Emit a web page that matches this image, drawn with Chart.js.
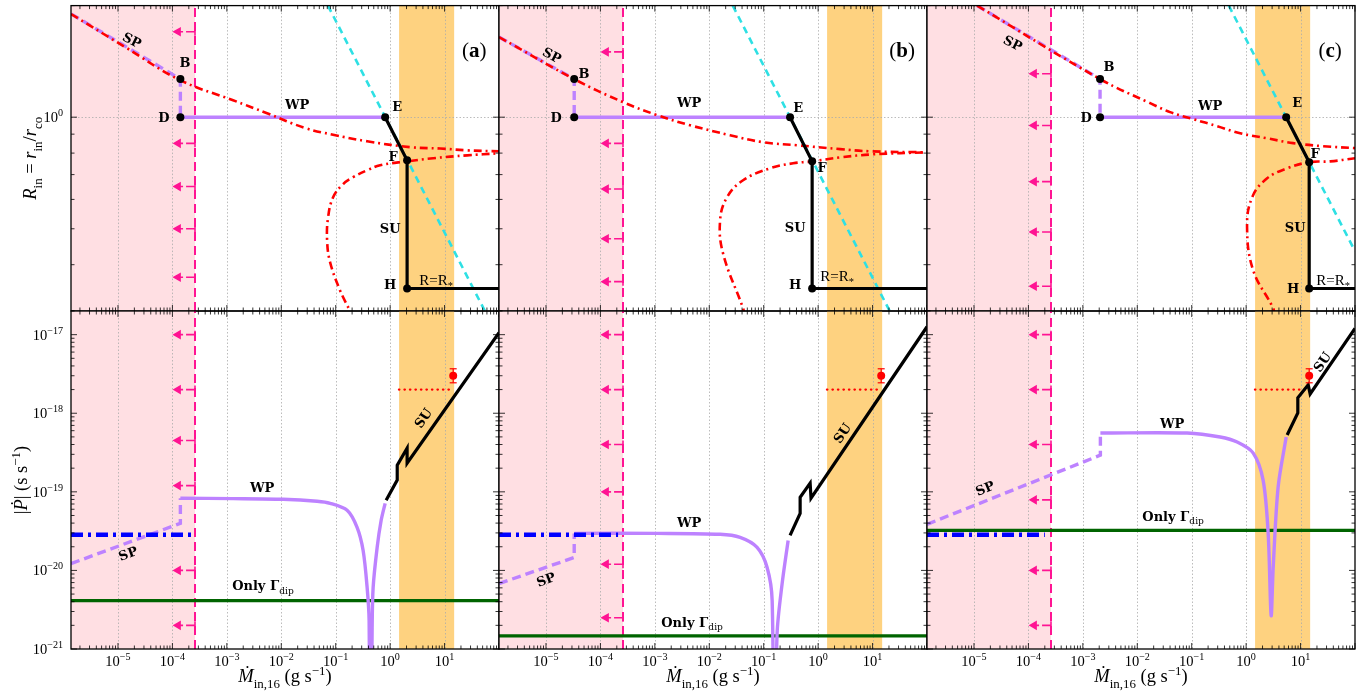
<!DOCTYPE html>
<html>
<head>
<meta charset="utf-8">
<title>R_in and |Pdot| vs Mdot</title>
<script src="https://cdn.jsdelivr.net/npm/chart.js@4.4.1/dist/chart.umd.min.js"></script>
<style>
  html, body { margin: 0; background: #fff; }
  canvas { position: absolute; left: 0; top: 0; }
</style>
</head>
<body>
<canvas id="topA" width="1370" height="693"></canvas>
<canvas id="topB" width="1370" height="693"></canvas>
<canvas id="topC" width="1370" height="693"></canvas>
<canvas id="botA" width="1370" height="693"></canvas>
<canvas id="botB" width="1370" height="693"></canvas>
<canvas id="botC" width="1370" height="693"></canvas>
<script>
// ─── Axes: ranges and tick labels ──────────────────────────────────────────
const mdotRange = [1.37e-6, 100];
const rinRange = [0.3, 2.0];
const pdotRange = [1e-21, 2e-17];
const mdotTickExp = [-5, -4, -3, -2, -1, 0, 1];
const rinTickExp = [0];
const pdotTickExp = [-17, -18, -19, -20, -21];
const rinMinorTicks = [0.3, 0.4, 0.5, 0.6, 0.7, 0.8, 0.9, 2];

// ─── Shared marks ──────────────────────────────────────────────────────────
const propellerMdot = 2.6e-4;        // dashed magenta limit
const arrowTipMdot = 1.27e-4;
const obsBandMdot = [1.46, 15];      // orange band
const obsDottedMdot = [1.45, 12.8];
const obsDottedPdot = 2e-18;
const obsPointMdot = [14.4];
const obsPointPdot = [3.0e-18];
const obsPointErr = [2.44e-18, 3.68e-18];
const blueTorquePdot = 2.85e-20;

// ─── Panel (a) ─────────────────────────────────────────────────────────────
const spTopA_m = [1.37e-6, 1.4e-4, 1.4e-4];
const spTopA_r = [1.90, 1.267, 1.0];
const wpTopA_m = [1.4e-4, 0.81];
const wpTopA_r = [1.0, 1.0];
const suTopA_m = [0.81, 2.05, 2.05, 100];
const suTopA_r = [1.0, 0.765, 0.345, 0.345];
const nodesA_m = [1.4e-4, 1.4e-4, 0.81, 2.05, 2.05];
const nodesA_r = [1.267, 1.0, 1.0, 0.765, 0.345];
const alfvenA_m = [0.072, 55];
const alfvenA_r = [2.0, 0.3];
const redUpA_m = [1.37e-6, 1.35e-5, 1.38e-4, 1.30e-3, 5.48e-3, 0.0274, 0.0896, 0.378, 2.33, 8.30, 26.0, 100];
const redUpA_r = [1.898, 1.546, 1.259, 1.111, 1.025, 0.935, 0.897, 0.861, 0.830, 0.823, 0.814, 0.809];
const redLoA_m = [0.205, 0.184, 0.120, 0.0789, 0.0695, 0.0725, 0.0896, 0.137, 0.209, 0.378, 0.655, 2.05, 6.17, 26.0, 100];
const redLoA_r = [0.285, 0.299, 0.341, 0.406, 0.465, 0.537, 0.608, 0.660, 0.689, 0.719, 0.742, 0.760, 0.775, 0.789, 0.799];
const arrowsTopA_r = [1.70, 0.85, 0.65, 0.50, 0.37];

const spBotA_m = [1.37e-6, 1.4e-4, 1.4e-4];
const spBotA_p = [1.22e-20, 3.97e-20, 8.28e-20];
const wpBotA_m = [1.4e-4, 1.30e-3, 0.0108, 0.0455, 0.0789, 0.162, 0.247, 0.319, 0.378, 0.411, 0.435, 0.467, 0.487, 0.577, 0.684, 0.810];
const wpBotA_p = [8.28e-20, 8.2e-20, 8.04e-20, 7.59e-20, 7.15e-20, 5.82e-20, 3.53e-20, 1.79e-20, 6.05e-21, 2.29e-21, 1e-23, 1.87e-21, 6.05e-21, 1.96e-20, 4.34e-20, 7.15e-20];
const suBotA_m = [0.844, 1.35, 1.35, 2.05, 2.05, 100];
const suBotA_p = [7.81e-20, 1.41e-19, 2.19e-19, 3.60e-19, 2.32e-19, 1.06e-17];
const blueBotA_m = [1.37e-6, 2.29e-4];
const dipoleA_p = 4.13e-21;
const arrowsBotA_p = [1.0e-17, 2.0e-18, 4.5e-19, 1.2e-19, 1.0e-20, 2.0e-21];

// ─── Panel (b) ─────────────────────────────────────────────────────────────
const spTopB_m = [1.37e-6, 3.3e-5, 3.3e-5];
const spTopB_r = [1.645, 1.267, 1.0];
const wpTopB_m = [3.3e-5, 0.305];
const wpTopB_r = [1.0, 1.0];
const suTopB_m = [0.305, 0.776, 0.776, 100];
const suTopB_r = [1.0, 0.76, 0.345, 0.345];
const nodesB_m = [3.3e-5, 3.3e-5, 0.305, 0.776, 0.776];
const nodesB_r = [1.267, 1.0, 1.0, 0.76, 0.345];
const alfvenB_m = [0.027, 20.6];
const alfvenB_r = [2.0, 0.3];
const redUpB_m = [1.37e-6, 3.3e-5, 2.60e-4, 1.10e-3, 4.44e-3, 0.0241, 0.0975, 0.411, 2.54, 9.03, 100];
const redUpB_r = [1.645, 1.267, 1.098, 1.013, 0.951, 0.894, 0.856, 0.840, 0.820, 0.809, 0.804];
const redLoB_m = [0.045, 0.0418, 0.0179, 0.0158, 0.0212, 0.0418, 0.131, 0.347, 0.776, 2.54, 10.3, 100];
const redLoB_r = [0.29, 0.305, 0.429, 0.527, 0.608, 0.676, 0.728, 0.751, 0.760, 0.779, 0.794, 0.804];
const arrowsTopB_r = [1.50, 0.85, 0.64, 0.47, 0.36];

const spBotB_m = [1.37e-6, 3.3e-5, 3.3e-5];
const spBotB_p = [6.8e-21, 1.46e-20, 2.96e-20];
const wpBotB_m = [3.3e-5, 1.10e-3, 0.0158, 0.0368, 0.0756, 0.1155, 0.143, 0.155, 0.176, 0.218, 0.281];
const wpBotB_p = [2.96e-20, 2.96e-20, 2.88e-20, 2.63e-20, 1.96e-20, 1.09e-20, 4.13e-21, 1e-23, 1.56e-21, 6.80e-21, 2.41e-20];
const suBotB_m = [0.305, 0.467, 0.467, 0.713, 0.74, 100];
const suBotB_p = [2.79e-20, 5.33e-20, 8.53e-20, 1.29e-19, 8.28e-20, 1.26e-17];
const blueBotB_m = [1.37e-6, 2.11e-4];
const dipoleB_p = 1.47e-21;
const arrowsBotB_p = [1.0e-17, 2.0e-18, 4.0e-19, 1.0e-19, 1.2e-20, 2.5e-21];

// ─── Panel (c) ─────────────────────────────────────────────────────────────
const spTopC_m = [1.14e-5, 2.07e-3, 2.07e-3];
const spTopC_r = [2.0, 1.267, 1.0];
const wpTopC_m = [2.07e-3, 5.44];
const wpTopC_r = [1.0, 1.0];
const suTopC_m = [5.44, 14.4, 14.4, 100];
const suTopC_r = [1.0, 0.756, 0.345, 0.345];
const nodesC_m = [2.07e-3, 2.07e-3, 5.44, 14.4, 14.4];
const nodesC_r = [1.267, 1.0, 1.0, 0.756, 0.345];
const alfvenC_m = [0.48, 100];
const alfvenC_r = [2.0, 0.435];
const redUpC_m = [1.14e-5, 2.07e-3, 0.0172, 0.0401, 0.106, 0.293, 0.776, 2.43, 7.31, 26.0, 100];
const redUpC_r = [2.0, 1.267, 1.091, 1.032, 0.988, 0.946, 0.905, 0.877, 0.851, 0.835, 0.825];
const redLoC_m = [3.3, 3.14, 1.35, 1.04, 1.29, 2.43, 5.67, 14.4, 35.0, 100];
const redLoC_r = [0.29, 0.305, 0.386, 0.504, 0.608, 0.684, 0.728, 0.756, 0.760, 0.775];
const arrowsTopC_r = [1.31, 0.95, 0.67, 0.49, 0.35];

const spBotC_m = [1.37e-6, 2.1e-3, 2.1e-3];
const spBotC_p = [3.86e-20, 2.93e-19, 5.6e-19];
const wpBotC_m = [2.1e-3, 0.0823, 0.333, 0.684, 1.35, 2.05, 2.54, 2.88, 3.14, 3.87, 5.44];
const wpBotC_p = [5.6e-19, 5.6e-19, 4.98e-19, 4.30e-19, 3.11e-19, 1.41e-19, 2.96e-20, 2.66e-21, 1.09e-20, 1.15e-19, 4.98e-19];
const suBotC_m = [5.67, 8.9, 8.9, 13.8, 15.0, 100];
const suBotC_p = [5.28e-19, 1.01e-18, 1.57e-18, 2.30e-18, 1.76e-18, 1.2e-17];
const blueBotC_m = [1.37e-6, 2.0e-4];
const dipoleC_p = 3.23e-20;
const arrowsBotC_p = [1.0e-17, 2.0e-18, 4.0e-19, 7.9e-20, 1.0e-20, 2.0e-21];

// ─── Style ─────────────────────────────────────────────────────────────────
const W = 1370, H = 693;
const COLS = [[71, 499], [499, 927], [927, 1355]];
const ROWS = [[5, 311], [311, 649]];
const PURPLE = '#bd82ff', RED = '#ff0000', CYAN = '#2ee0e4', MAGENTA = '#ff1493';
const GREEN = '#006400', BLUE = '#0000ff';
const PINK_FILL = '#ffdfe3', ORANGE_FILL = '#fed280';
const AXIS_FONT = '"Liberation Serif", "DejaVu Serif", serif';
const LABEL_FONT = '"DejaVu Serif", serif';

// ─── Helpers ───────────────────────────────────────────────────────────────
function xy(xs, ys) { return xs.map((x, i) => ({ x, y: ys[i] })); }
function hline(y, xs = mdotRange) { return [{ x: xs[0], y }, { x: xs[1], y }]; }
function vline(x, ys) { return [{ x, y: ys[0] }, { x, y: ys[1] }]; }
function arrowData(ys) {
  const d = [];
  ys.forEach(y => d.push({ x: arrowTipMdot, y }, { x: propellerMdot, y }, { x: propellerMdot, y: null }));
  return d;
}
function line(data, color, width, dash = [], extra = {}) {
  return Object.assign({
    data, borderColor: color, backgroundColor: color, borderWidth: width, borderDash: dash,
    pointRadius: 0, fill: false, tension: 0, spanGaps: false
  }, extra);
}
function expText(e) { return e < 0 ? '\u2212' + (-e) : String(e); }

function drawRich(ctx, parts, x, y, size, opt = {}) {
  const fam = opt.family || AXIS_FONT;
  ctx.save();
  const runs = parts.map(([t, s = '']) => {
    const f = s.split(' ');
    const small = f.includes('sub') || f.includes('sup');
    const fs = small ? size * 0.7 : size;
    const font = (f.includes('i') ? 'italic ' : '') + (f.includes('b') ? 'bold ' : '') + fs + 'px ' + fam;
    ctx.font = font;
    return { t, font, w: ctx.measureText(t).width, dy: f.includes('sub') ? size * 0.28 : f.includes('sup') ? -size * 0.42 : 0 };
  });
  const total = runs.reduce((s, r) => s + r.w, 0);
  ctx.translate(x, y);
  if (opt.rot) ctx.rotate(opt.rot * Math.PI / 180);
  let cx = opt.align === 'right' ? -total : opt.align === 'left' ? 0 : -total / 2;
  ctx.fillStyle = '#000';
  ctx.textBaseline = 'alphabetic';
  runs.forEach(r => { ctx.font = r.font; ctx.fillText(r.t, cx, size * 0.35 + r.dy); cx += r.w; });
  ctx.restore();
}

function logTicks(range) {
  const out = [];
  for (let e = Math.floor(Math.log10(range[0])); e <= Math.ceil(Math.log10(range[1])); e++) {
    for (let k = 1; k <= 9; k++) {
      const v = k * Math.pow(10, e);
      if (v >= range[0] * 0.999 && v <= range[1] * 1.001) out.push({ v, major: k === 1 });
    }
  }
  return out;
}

// ─── Decoration plugin: bands, grid, frame, ticks, labels ──────────────────
function decor(notes, o) {
  return {
    id: 'decor',
    beforeDatasetsDraw(chart) {
      const { ctx, chartArea: a, scales: { x, y } } = chart;
      ctx.save();
      ctx.beginPath(); ctx.rect(a.left, a.top, a.width, a.height); ctx.clip();
      const band = (lo, hi, c) => {
        const l = x.getPixelForValue(lo), r = x.getPixelForValue(hi);
        ctx.fillStyle = c; ctx.fillRect(l, a.top, r - l, a.height);
      };
      band(mdotRange[0], propellerMdot, PINK_FILL);
      band(obsBandMdot[0], obsBandMdot[1], ORANGE_FILL);
      ctx.strokeStyle = '#ababab'; ctx.lineWidth = 0.8; ctx.setLineDash([1.5, 2]);
      mdotTickExp.forEach(e => {
        const px = Math.round(x.getPixelForValue(Math.pow(10, e))) + 0.5;
        ctx.beginPath(); ctx.moveTo(px, a.top); ctx.lineTo(px, a.bottom); ctx.stroke();
      });
      (o.hGrid || []).forEach(v => {
        const py = Math.round(y.getPixelForValue(v)) + 0.5;
        ctx.beginPath(); ctx.moveTo(a.left, py); ctx.lineTo(a.right, py); ctx.stroke();
      });
      ctx.restore();
    },
    afterDatasetsDraw(chart) {
      const { ctx, scales: { x, y } } = chart;
      notes.forEach(n => drawRich(ctx, typeof n.t === 'string' ? [[n.t, 'b']] : n.t,
        x.getPixelForValue(n.x), y.getPixelForValue(n.y), n.size || 13,
        { rot: n.rot || 0, family: n.family || LABEL_FONT }));
    },
    afterDraw(chart) {
      const { ctx, chartArea: a, scales: { x, y } } = chart;
      ctx.save();
      ctx.strokeStyle = '#000'; ctx.lineWidth = 0.8;
      logTicks(mdotRange).forEach(t => {
        const px = x.getPixelForValue(t.v), len = t.major ? 6 : 3.5;
        ctx.beginPath();
        ctx.moveTo(px, a.bottom); ctx.lineTo(px, a.bottom - len);
        ctx.moveTo(px, a.top); ctx.lineTo(px, a.top + len);
        ctx.stroke();
      });
      o.yTicks.forEach(t => {
        const py = y.getPixelForValue(t.v), len = t.major ? 6 : 3.5;
        ctx.beginPath();
        ctx.moveTo(a.left, py); ctx.lineTo(a.left + len, py);
        ctx.moveTo(a.right, py); ctx.lineTo(a.right - len, py);
        ctx.stroke();
      });
      ctx.lineWidth = 1.3;
      ctx.strokeRect(a.left, a.top, a.width, a.height);
      if (o.xLabels) {
        mdotTickExp.forEach(e => drawRich(ctx, [['10', ''], [expText(e), 'sup']],
          x.getPixelForValue(Math.pow(10, e)), a.bottom + 12, 14.5));
        drawRich(ctx, [['\u1E40', 'i'], ['in,16', 'sub'], [' (g s', ''], ['\u22121', 'sup'], [')', '']],
          (a.left + a.right) / 2, 676, 18.5);
      }
      if (o.yLabels) {
        o.yLabels.forEach(e => drawRich(ctx, [['10', ''], [expText(e), 'sup']],
          a.left - 8, y.getPixelForValue(Math.pow(10, e)), 14.5, { align: 'right' }));
        drawRich(ctx, o.yTitle, o.yTitleX, (a.top + a.bottom) / 2, 18.5, { rot: -90 });
      }
      ctx.restore();
    }
  };
}

function makePanel(id, col, row, yRange, datasets, notes, o) {
  new Chart(document.getElementById(id), {
    type: 'line',
    data: { datasets },
    options: {
      responsive: false, animation: false, events: [],
      layout: { padding: { left: col[0], right: W - col[1], top: row[0], bottom: H - row[1] } },
      scales: {
        x: { type: 'logarithmic', min: mdotRange[0], max: mdotRange[1], display: false },
        y: { type: 'logarithmic', min: yRange[0], max: yRange[1], display: false }
      },
      plugins: { legend: { display: false }, tooltip: { enabled: false } }
    },
    plugins: [decor(notes, o)]
  });
}

// ─── Dataset builders ──────────────────────────────────────────────────────
function arrowSet(ys) {
  return line(arrowData(ys), MAGENTA, 1.6, [5, 3, 100], {
    pointRadius: c => (c.index % 3 === 2 ? 0 : 4),
    pointStyle: c => (c.index % 3 === 0 ? 'triangle' : 'line'),
    pointRotation: c => (c.index % 3 === 0 ? 270 : 90),
    pointBackgroundColor: MAGENTA, pointBorderColor: MAGENTA, pointBorderWidth: 1.6
  });
}

function topSets(d) {
  return [
    line(xy(d.nodes[0], d.nodes[1]), '#000', 0, [], { showLine: false, pointRadius: 4, pointBorderWidth: 0, pointBackgroundColor: '#000' }),
    line(xy(d.su[0], d.su[1]), '#000', 3.2),
    line(xy(d.redUp[0], d.redUp[1]), RED, 2.6, [8, 4, 2, 4], { tension: 0.4 }),
    line(xy(d.redLo[0], d.redLo[1]), RED, 2.6, [8, 4, 2, 4], { tension: 0.4 }),
    line(xy(d.alfven[0], d.alfven[1]), CYAN, 2.6, [7, 5]),
    line(xy(d.wp[0], d.wp[1]), PURPLE, 3.4),
    line(xy(d.sp[0], d.sp[1]), PURPLE, 3.4, [9, 5]),
    arrowSet(d.arrows),
    line(vline(propellerMdot, rinRange), MAGENTA, 2, [9, 5])
  ];
}

function botSets(d) {
  return [
    line(xy(obsPointMdot, obsPointPdot), RED, 0, [], { showLine: false, pointRadius: 4, pointBorderWidth: 0, pointBackgroundColor: RED }),
    line(vline(obsPointMdot[0], obsPointErr), RED, 1.2, [], { pointRadius: 3.5, pointStyle: 'line', pointBorderColor: RED, pointBorderWidth: 1.2 }),
    line(xy(d.su[0], d.su[1]), '#000', 3.2),
    line(hline(blueTorquePdot, d.blue), BLUE, 4.5, [12, 5, 3, 5]),
    line(xy(d.wp[0], d.wp[1]), PURPLE, 3.4, [], { tension: 0.3, borderJoinStyle: 'round' }),
    line(xy(d.sp[0], d.sp[1]), PURPLE, 3.4, [9, 5]),
    line(hline(obsDottedPdot, obsDottedMdot), RED, 2.2, [0.5, 5], { borderCapStyle: 'round' }),
    line(hline(d.dipole), GREEN, 3.4),
    arrowSet(d.arrows),
    line(vline(propellerMdot, pdotRange), MAGENTA, 2, [9, 5])
  ];
}

// ─── Labels ────────────────────────────────────────────────────────────────
const rStar = [['R=R', ''], ['*', 'sub']];
const onlyDip = [['Only \u0393', 'b'], ['dip', 'sub']];
const tag = l => [['(', ''], [l, 'b'], [')', '']];
const rinTitle = [['R', 'i'], ['in', 'sub'], [' = ', ''], ['r', 'i'], ['in', 'sub'], ['/', ''], ['r', 'i'], ['co', 'sub']];
const pdotTitle = [['|', ''], ['\u1E56', 'i'], ['|', ''], [' (s s', ''], ['\u22121', 'sup'], [')', '']];

const notesTopA = [
  { t: 'SP', x: 1.81e-5, y: 1.615, rot: 27 }, { t: 'B', x: 1.71e-4, y: 1.408 }, { t: 'D', x: 7.0e-5, y: 1.0 },
  { t: 'WP', x: 0.0195, y: 1.084 }, { t: 'E', x: 1.35, y: 1.071 }, { t: 'F', x: 1.13, y: 0.785 },
  { t: 'SU', x: 1.0, y: 0.501 }, { t: 'H', x: 1.0, y: 0.354 }, { t: rStar, x: 7.0, y: 0.365, size: 15, family: AXIS_FONT },
  { t: tag('a'), x: 35, y: 1.517, size: 21, family: AXIS_FONT }
];
const notesTopB = [
  { t: 'SP', x: 1.29e-5, y: 1.47, rot: 27 }, { t: 'B', x: 5.0e-5, y: 1.315 }, { t: 'D', x: 1.53e-5, y: 1.0 },
  { t: 'WP', x: 4.26e-3, y: 1.098 }, { t: 'E', x: 0.429, y: 1.064 }, { t: 'F', x: 1.18, y: 0.732 },
  { t: 'SU', x: 0.378, y: 0.504 }, { t: 'H', x: 0.378, y: 0.354 }, { t: rStar, x: 2.24, y: 0.374, size: 15, family: AXIS_FONT },
  { t: tag('b'), x: 35, y: 1.517, size: 21, family: AXIS_FONT }
];
const notesTopC = [
  { t: 'SP', x: 5.2e-5, y: 1.585, rot: 27 }, { t: 'B', x: 3.03e-3, y: 1.374 }, { t: 'D', x: 1.15e-3, y: 1.0 },
  { t: 'WP', x: 0.218, y: 1.077 }, { t: 'E', x: 8.66, y: 1.098 }, { t: 'F', x: 18.5, y: 0.799 },
  { t: 'SU', x: 7.96, y: 0.504 }, { t: 'H', x: 7.31, y: 0.345 }, { t: rStar, x: 39.7, y: 0.365, size: 15, family: AXIS_FONT },
  { t: tag('c'), x: 35, y: 1.517, size: 21, family: AXIS_FONT }
];
const notesBotA = [
  { t: 'WP', x: 4.44e-3, y: 1.15e-19 }, { t: 'SP', x: 1.53e-5, y: 1.64e-20, rot: -20 },
  { t: 'SU', x: 4.04, y: 8.7e-19, rot: -55 }, { t: onlyDip, x: 4.6e-3, y: 6.4e-21 }
];
const notesBotB = [
  { t: 'WP', x: 4.26e-3, y: 4.1e-20 }, { t: 'SP', x: 1.0e-5, y: 7.7e-21, rot: -20 },
  { t: 'SU', x: 2.76, y: 5.6e-19, rot: -55 }, { t: onlyDip, x: 4.83e-3, y: 2.2e-21 }
];
const notesBotC = [
  { t: 'WP', x: 0.0436, y: 7.5e-19 }, { t: 'SP', x: 1.59e-5, y: 1.11e-19, rot: -22 },
  { t: 'SU', x: 24.9, y: 4.5e-18, rot: -55 }, { t: onlyDip, x: 0.0455, y: 4.9e-20 }
];

// ─── Build the six panels ──────────────────────────────────────────────────
const rinTicks = rinMinorTicks.map(v => ({ v, major: false })).concat([{ v: 1, major: true }]);
const pdotTicks = logTicks(pdotRange);

makePanel('topA', COLS[0], ROWS[0], rinRange, topSets({
  nodes: [nodesA_m, nodesA_r], su: [suTopA_m, suTopA_r], redUp: [redUpA_m, redUpA_r], redLo: [redLoA_m, redLoA_r],
  alfven: [alfvenA_m, alfvenA_r], wp: [wpTopA_m, wpTopA_r], sp: [spTopA_m, spTopA_r], arrows: arrowsTopA_r
}), notesTopA, { hGrid: [1], yTicks: rinTicks, yLabels: rinTickExp, yTitle: rinTitle, yTitleX: 30 });

makePanel('topB', COLS[1], ROWS[0], rinRange, topSets({
  nodes: [nodesB_m, nodesB_r], su: [suTopB_m, suTopB_r], redUp: [redUpB_m, redUpB_r], redLo: [redLoB_m, redLoB_r],
  alfven: [alfvenB_m, alfvenB_r], wp: [wpTopB_m, wpTopB_r], sp: [spTopB_m, spTopB_r], arrows: arrowsTopB_r
}), notesTopB, { hGrid: [1], yTicks: rinTicks });

makePanel('topC', COLS[2], ROWS[0], rinRange, topSets({
  nodes: [nodesC_m, nodesC_r], su: [suTopC_m, suTopC_r], redUp: [redUpC_m, redUpC_r], redLo: [redLoC_m, redLoC_r],
  alfven: [alfvenC_m, alfvenC_r], wp: [wpTopC_m, wpTopC_r], sp: [spTopC_m, spTopC_r], arrows: arrowsTopC_r
}), notesTopC, { hGrid: [1], yTicks: rinTicks });

makePanel('botA', COLS[0], ROWS[1], pdotRange, botSets({
  su: [suBotA_m, suBotA_p], wp: [wpBotA_m, wpBotA_p], sp: [spBotA_m, spBotA_p],
  blue: blueBotA_m, dipole: dipoleA_p, arrows: arrowsBotA_p
}), notesBotA, { yTicks: pdotTicks, xLabels: true, yLabels: pdotTickExp, yTitle: pdotTitle, yTitleX: 21 });

makePanel('botB', COLS[1], ROWS[1], pdotRange, botSets({
  su: [suBotB_m, suBotB_p], wp: [wpBotB_m, wpBotB_p], sp: [spBotB_m, spBotB_p],
  blue: blueBotB_m, dipole: dipoleB_p, arrows: arrowsBotB_p
}), notesBotB, { yTicks: pdotTicks, xLabels: true });

makePanel('botC', COLS[2], ROWS[1], pdotRange, botSets({
  su: [suBotC_m, suBotC_p], wp: [wpBotC_m, wpBotC_p], sp: [spBotC_m, spBotC_p],
  blue: blueBotC_m, dipole: dipoleC_p, arrows: arrowsBotC_p
}), notesBotC, { yTicks: pdotTicks, xLabels: true });
</script>
</body>
</html>
